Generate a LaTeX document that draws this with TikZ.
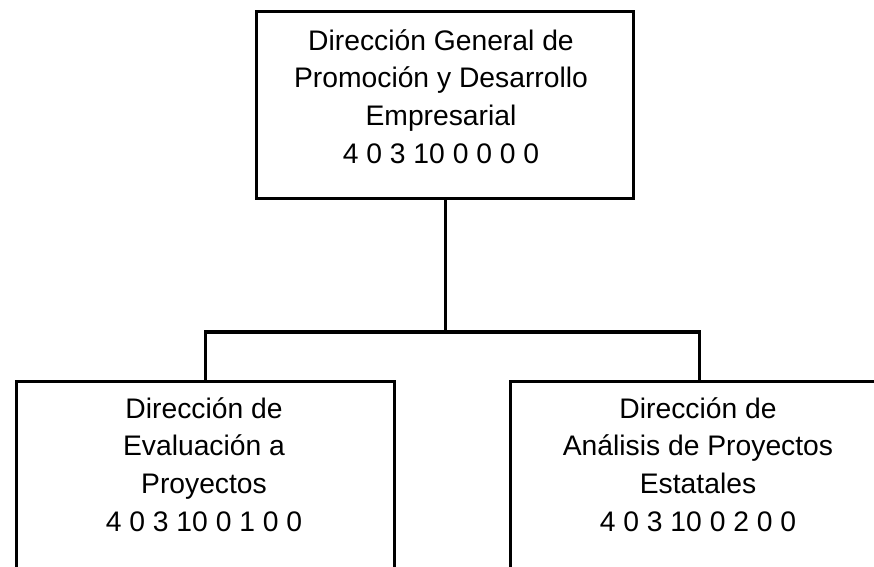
\documentclass[tikz,border=0pt]{standalone}
\usepackage{fontspec}
\setmainfont{Liberation Sans}
\begin{document}
\begin{tikzpicture}[x=0.75pt,y=-0.75pt,
  box/.style={draw=black,line width=2.6pt,rectangle,inner sep=0pt,anchor=north west},
  lbl/.style={align=center,anchor=north,inner sep=0pt,font=\fontsize{21.2pt}{28.3pt}\selectfont},
  conn/.style={draw=black,line width=2.6pt,line join=miter}]
\useasboundingbox (0,0) rectangle (874,567);
\clip (0,0) rectangle (874,567);
\node[box,minimum width=282.75pt,minimum height=140.25pt] (top) at (255,10) {};
\node[box,minimum width=283.5pt,minimum height=187.5pt] (left) at (15,380) {};
\node[box,minimum width=283.5pt,minimum height=187.5pt] (right) at (509,380) {};
\node[lbl] (ttop) at (441,29) {Dirección General de\\Promoción y Desarrollo\\Empresarial\\4 0 3 10 0 0 0 0};
\node[lbl] (tleft) at (204,397) {Dirección de\\Evaluación a\\Proyectos\\4 0 3 10 0 1 0 0};
\node[lbl] (tright) at (698,397) {Dirección de\\Análisis de Proyectos\\Estatales\\4 0 3 10 0 2 0 0};
\coordinate (bus) at (447,332);
\draw[conn] (top.south) -- (top.south |- bus);
\draw[conn] (left.north) -- (left.north |- bus) -- (right.north |- bus) -- (right.north);
\end{tikzpicture}
\end{document}
